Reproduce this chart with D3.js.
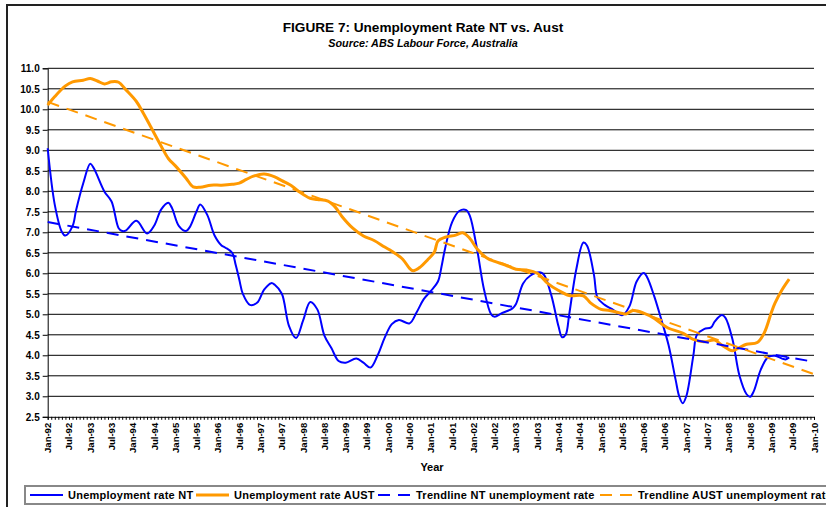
<!DOCTYPE html>
<html>
<head>
<meta charset="utf-8">
<script src="https://cdn.jsdelivr.net/npm/d3@7"></script>
<style>
  body { margin:0; background:#fff; }
  svg { display:block; font-family:Arial, "Liberation Sans", sans-serif; }
</style>
</head>
<body>
<script>
// months counted from Jan-92 (0) ... Jan-10 (216)
const tickLabels = ["Jan-92","Jul-92","Jan-93","Jul-93","Jan-94","Jul-94","Jan-95","Jul-95","Jan-96","Jul-96",
  "Jan-97","Jul-97","Jan-98","Jul-98","Jan-99","Jul-99","Jan-00","Jul-00","Jan-01","Jul-01","Jan-02","Jul-02",
  "Jan-03","Jul-03","Jan-04","Jul-04","Jan-05","Jul-05","Jan-06","Jul-06","Jan-07","Jul-07","Jan-08","Jul-08",
  "Jan-09","Jul-09","Jan-10"];
const yTicks = [2.5,3.0,3.5,4.0,4.5,5.0,5.5,6.0,6.5,7.0,7.5,8.0,8.5,9.0,9.5,10.0,10.5,11.0];

const ntMonths = [0,2,4,5,7,8,10,12,13,16,18,20,21,22,25,28,30,32,34,35,37,39,40,42,43,45,47,49,50,52,53,54,55,57,59,61,63,64,66,
  68,70,72,74,76,78,80,82,84,87,89,91,93,95,97,99,102,104,106,108,110,111,112,114,116,118,119,121,123,125,126,128,131,132,134,
  136,139,140,142,144,145,146,147,149,151,152,154,155,157,159,162,164,166,168,169,171,173,175,177,178,179,180,182,183,185,187,
  188,190,191,193,195,197,198,199,201,203,205,207,208,209];
const ntRates = [9.05,7.67,7.01,6.92,7.15,7.54,8.19,8.67,8.56,7.99,7.75,7.1,7.03,7.04,7.28,6.97,7.16,7.56,7.72,7.6,7.15,7.03,7.12,7.52,
  7.68,7.42,6.93,6.68,6.63,6.5,6.2,5.85,5.5,5.23,5.28,5.6,5.76,5.72,5.5,4.72,4.42,4.85,5.3,5.12,4.48,4.17,3.86,3.82,3.92,3.82,3.7,
  4.0,4.43,4.76,4.86,4.78,5.05,5.37,5.57,5.8,6.16,6.6,7.25,7.52,7.54,7.4,6.6,5.6,5.0,4.94,5.03,5.14,5.25,5.75,5.94,6.02,5.95,5.45,
  4.7,4.44,4.5,5.0,6.1,6.75,6.68,5.95,5.4,5.23,5.13,4.98,5.2,5.8,6.01,5.9,5.43,4.86,4.25,3.4,3.0,2.83,3.0,4.0,4.5,4.64,4.68,4.82,
  4.98,4.92,4.4,3.5,3.05,2.99,3.12,3.65,3.95,3.99,3.92,3.9,3.95];

const austMonths = [0,2,5,7,10,12,14,16,18,20,22,25,27,29,32,34,36,39,41,43,46,49,52,54,56,58,61,64,66,69,71,74,76,79,81,83,86,89,92,
  95,97,100,102,103,105,107,109,110,112,115,117,119,121,124,126,129,132,135,138,141,144,147,151,153,156,158,161,163,165,168,171,173,
  175,179,182,185,188,190,193,195,197,200,202,204,205,207,209];
const austRates = [10.1,10.31,10.57,10.67,10.71,10.75,10.69,10.62,10.67,10.66,10.48,10.19,9.9,9.58,9.1,8.8,8.62,8.32,8.11,8.1,8.15,
  8.15,8.17,8.2,8.29,8.37,8.42,8.35,8.26,8.12,7.98,7.83,7.8,7.76,7.62,7.38,7.1,6.91,6.8,6.64,6.54,6.35,6.12,6.06,6.15,6.32,6.52,6.79,
  6.88,6.93,6.99,6.85,6.6,6.36,6.29,6.2,6.1,6.08,6.0,5.75,5.58,5.46,5.45,5.28,5.12,5.1,5.04,5.01,5.09,5.03,4.9,4.77,4.66,4.54,4.39,
  4.33,4.37,4.25,4.11,4.19,4.27,4.31,4.55,5.05,5.27,5.6,5.86];

// linear trendlines, value at Jan-92 and at Jan-10
const trendMonths = [0,216];
const trendNT = [7.25,3.84];
const trendAUST = [10.18,3.54];

const W=826, H=507;
const svg = d3.select("body").append("svg").attr("width",W).attr("height",H);

// chart frame
svg.append("path").attr("d","M7,507V5H826").attr("fill","none").attr("stroke","#222").attr("stroke-width",2);

const x = d3.scaleLinear().domain([0,216]).range([47.7,814]);
const y = d3.scaleLinear().domain([2.5,11]).range([416.8,68.3]);

// gridlines
svg.append("g").selectAll("line").data(yTicks.filter(d=>d>2.5)).enter().append("line")
  .attr("x1",x(0)).attr("x2",x(216)).attr("y1",d=>y(d)).attr("y2",d=>y(d))
  .attr("stroke","#000").attr("stroke-width",1);

// y axis
const yAxis = svg.append("g").attr("transform","translate("+x(0)+",0)")
  .call(d3.axisLeft(y).tickValues(yTicks).tickFormat(d3.format(".1f")).tickSize(5).tickPadding(3));
yAxis.selectAll("text").attr("font-size",10).attr("font-weight","bold").attr("fill","#000");
yAxis.selectAll("line,path").attr("stroke","#000");

// x axis: monthly minor ticks, labels every 6 months
const xAxis = svg.append("g").attr("transform","translate(0,"+y(2.5)+")")
  .call(d3.axisBottom(x).tickValues(d3.range(0,217)).tickSize(3).tickFormat(""));
xAxis.selectAll("line,path").attr("stroke","#000");
svg.append("g").selectAll("text").data(tickLabels).enter().append("text")
  .attr("transform",(d,i)=>"translate("+(x(i*6)+3.5)+","+(y(2.5)+6)+") rotate(-90)")
  .attr("text-anchor","end").attr("font-size",9.5).attr("font-weight","bold").text(d=>d);

const lineNT = d3.line().x((d,i)=>x(ntMonths[i])).y(d=>y(d)).curve(d3.curveCatmullRom.alpha(0.5));
const lineAU = d3.line().x((d,i)=>x(austMonths[i])).y(d=>y(d)).curve(d3.curveCatmullRom.alpha(0.5));
const lineTr = d3.line().x((d,i)=>x(trendMonths[i])).y(d=>y(d));

svg.append("path").attr("d",lineNT(ntRates)).attr("fill","none").attr("stroke","#0000ff").attr("stroke-width",2);
svg.append("path").attr("d",lineAU(austRates)).attr("fill","none").attr("stroke","#ff9900").attr("stroke-width",3);
svg.append("path").attr("d",lineTr(trendNT)).attr("fill","none").attr("stroke","#0000ff").attr("stroke-width",2).attr("stroke-dasharray","12,8");
svg.append("path").attr("d",lineTr(trendAUST)).attr("fill","none").attr("stroke","#ff9900").attr("stroke-width",2).attr("stroke-dasharray","12,8");

// titles
svg.append("text").attr("x",423).attr("y",32).attr("text-anchor","middle").attr("font-size",13.6).attr("font-weight","bold")
  .text("FIGURE 7: Unemployment Rate NT vs. Aust");
svg.append("text").attr("x",423).attr("y",47).attr("text-anchor","middle").attr("font-size",10.8).attr("font-weight","bold")
  .attr("font-style","italic").text("Source: ABS Labour Force, Australia");
svg.append("text").attr("x",432).attr("y",471).attr("text-anchor","middle").attr("font-size",11).attr("font-weight","bold").text("Year");

// legend
const legendItems = [
  {label:"Unemployment rate NT", color:"#0000ff", w:2, dash:null, x0:30},
  {label:"Unemployment rate AUST", color:"#ff9900", w:3, dash:null, x0:196},
  {label:"Trendline NT unemployment rate", color:"#0000ff", w:2, dash:"12,8", x0:378},
  {label:"Trendline AUST unemployment rate", color:"#ff9900", w:2, dash:"12,8", x0:600}
];
svg.append("rect").attr("x",25).attr("y",486).attr("width",830).attr("height",18)
  .attr("fill","#fff").attr("stroke","#888").attr("stroke-width",2);
const lg = svg.append("g").selectAll("g").data(legendItems).enter().append("g");
lg.append("line").attr("x1",d=>d.x0).attr("x2",d=>d.x0+33).attr("y1",495).attr("y2",495)
  .attr("stroke",d=>d.color).attr("stroke-width",d=>d.w).attr("stroke-dasharray",d=>d.dash);
lg.append("text").attr("x",d=>d.x0+38).attr("y",499).attr("font-size",11).attr("font-weight","bold")
  .attr("letter-spacing",0.25).text(d=>d.label);
</script>
</body>
</html>
